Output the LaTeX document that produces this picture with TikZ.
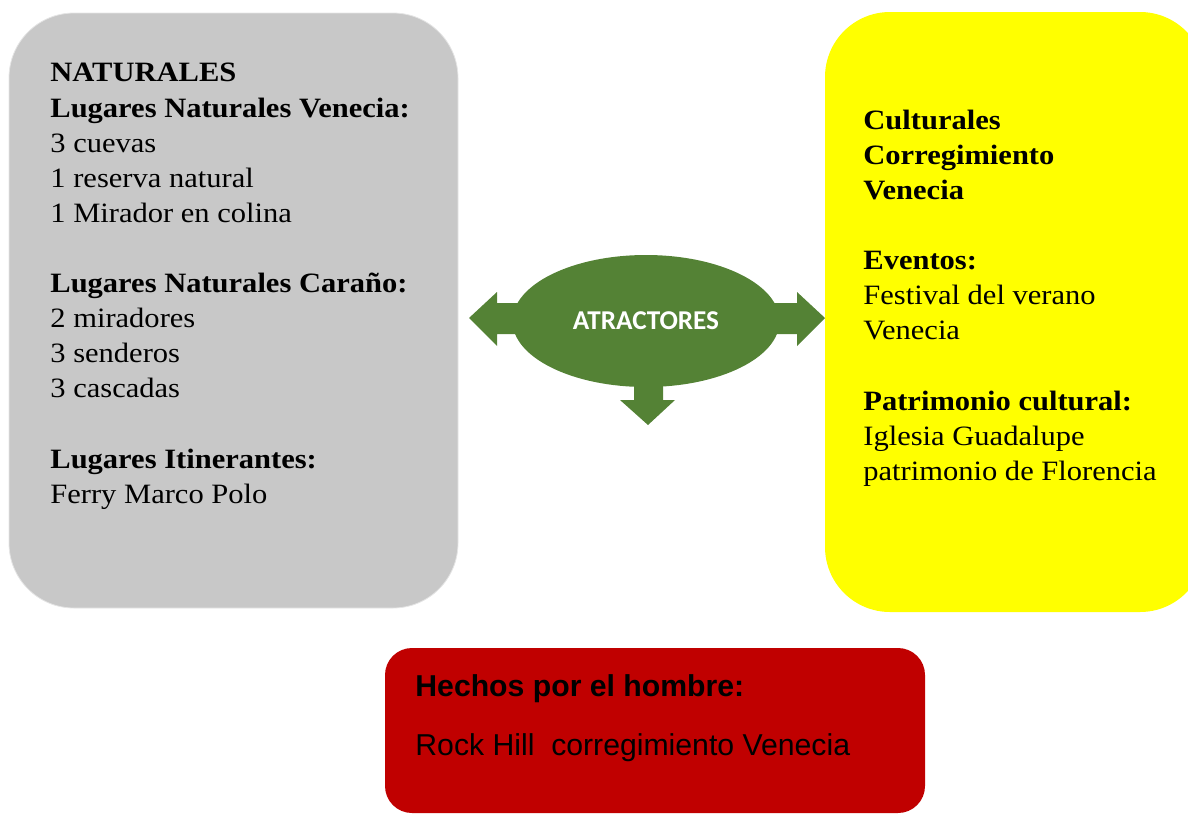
\documentclass[tikz,border=0pt]{standalone}
\usepackage{fontspec}
\setmainfont{Liberation Serif}[FakeStretch=1.09]
\newfontfamily\arialfont{Liberation Sans}
\newfontfamily\calibrifont{Carlito}
\usetikzlibrary{shapes.geometric}
\definecolor{boxgray}{HTML}{C8C8C8}
\definecolor{boxyellow}{HTML}{FFFF00}
\definecolor{boxred}{HTML}{C00000}
\definecolor{atrgreen}{HTML}{548235}
\begin{document}
\begin{tikzpicture}[x=0.5pt,y=-0.5pt,
    txt/.style={anchor=north west,inner sep=0pt,align=left,font=\fontsize{14}{17.55}\selectfont},
    flecha/.style={fill=atrgreen}]
    \useasboundingbox (0,0) rectangle (1188,814);
    \clip (0,0) rectangle (1188,814);
    % cajas
    \filldraw [fill=boxgray, draw=black!10, rounded corners=32.5pt] (9,13) rectangle (458,608);
    \fill [boxyellow, rounded corners=32.5pt] (825,12) rectangle (1205,612);
    \fill [boxred, rounded corners=13.5pt] (385,648) rectangle (925,813);
    % flechas
    \fill [flecha] (530,303)--(497,303)--(497,292)--(469,318)--(497,346)--(497,334)--(530,334)--cycle;
    \fill [flecha] (760,303)--(797,303)--(797,292)--(825,318)--(797,346)--(797,334)--(760,334)--cycle;
    \fill [flecha] (634,370)--(634,400)--(620,400)--(648,425)--(675,400)--(663,400)--(663,370)--cycle;
    \node (atr) at (646,321) [ellipse, fill=atrgreen, minimum width=133.5pt, minimum height=66pt, inner sep=0pt, text=white, font=\calibrifont\bfseries\fontsize{13.6}{15}\selectfont] {ATRACTORES};
    % textos
    \node (natur) at (50,63) [txt] {\textbf{NATURALES}\\ \textbf{Lugares Naturales Venecia:}\\ 3 cuevas\\ 1 reserva natural\\ 1 Mirador en colina\\[17.55pt] \textbf{Lugares Naturales Caraño:}\\ 2 miradores\\ 3 senderos\\ 3 cascadas\\[17.55pt] \textbf{Lugares Itinerantes:}\\ Ferry Marco Polo};
    \node (cultur) at (863,109.5) [txt] {\textbf{Culturales}\\ \textbf{Corregimiento}\\ \textbf{Venecia}\\[17.55pt] \textbf{Eventos:}\\ Festival del verano\\ Venecia\\[17.55pt] \textbf{Patrimonio cultural:}\\ Iglesia Guadalupe\\ patrimonio de Florencia};
    \node (hechos) at (415,674.5) [txt, font=\arialfont\fontsize{15.1}{29.5}\selectfont] {\textbf{Hechos por el hombre:}\\ Rock Hill\ \ corregimiento Venecia};
\end{tikzpicture}
\end{document}
